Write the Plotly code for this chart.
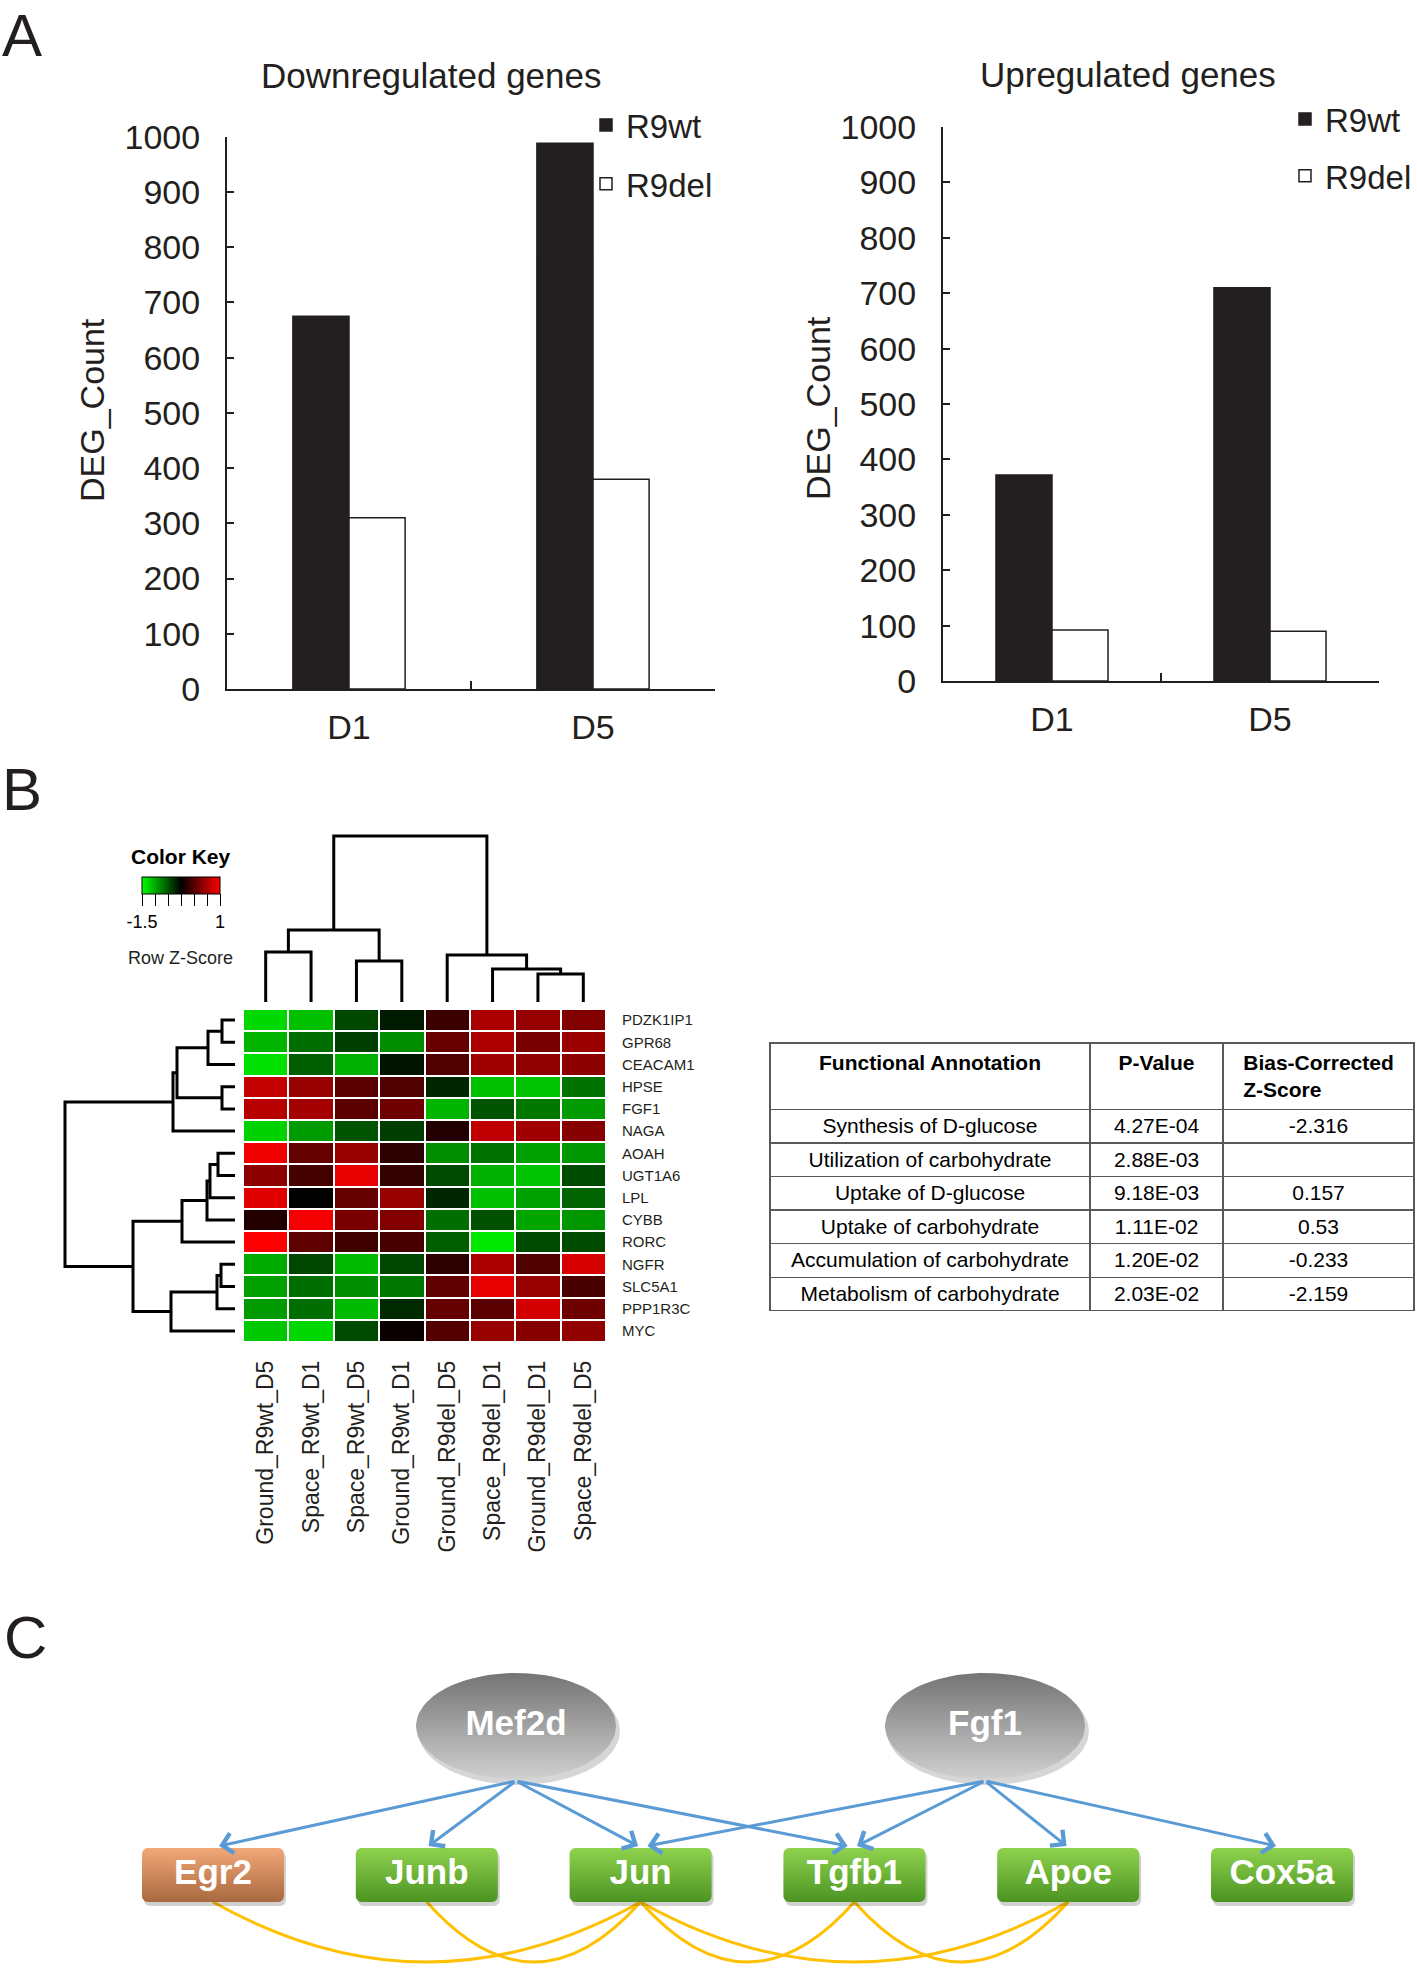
import numpy as np
import plotly.graph_objects as go

W, H = 1417, 1970
FONT = "Liberation Sans, Arial, sans-serif"
INK = "#231f20"

# ---------------- panel A: DEG counts
days = ["D1", "D5"]
down_r9wt = [675, 988]
down_r9del = [310, 380]
up_r9wt = [372, 710]
up_r9del = [92, 90]

# ---------------- panel B: heatmap (row z-scores)
samples = ["Ground_R9wt_D5", "Space_R9wt_D1", "Space_R9wt_D5", "Ground_R9wt_D1",
           "Ground_R9del_D5", "Space_R9del_D1", "Ground_R9del_D1", "Space_R9del_D5"]
genes = ["PDZK1IP1", "GPR68", "CEACAM1", "HPSE", "FGF1", "NAGA", "AOAH", "UGT1A6",
         "LPL", "CYBB", "RORC", "NGFR", "SLC5A1", "PPP1R3C", "MYC"]
row_z = [
    [-1.31, -1.19, -0.60, -0.38, 0.04, 0.59, 0.49, 0.39],
    [-1.13, -0.79, -0.56, -0.94, 0.25, 0.61, 0.34, 0.51],
    [-1.35, -0.71, -1.11, -0.35, 0.14, 0.54, 0.46, 0.44],
    [0.70, 0.49, 0.19, 0.14, -0.43, -1.19, -1.20, -0.81],
    [0.64, 0.56, 0.19, 0.29, -1.13, -0.66, -0.84, -1.01],
    [-1.28, -1.01, -0.66, -0.55, -0.08, 0.69, 0.54, 0.41],
    [0.93, 0.24, 0.49, -0.03, -0.94, -0.81, -1.04, -0.99],
    [0.44, 0.09, 0.88, 0.00, -0.61, -1.11, -1.20, -0.61],
    [0.85, -0.25, 0.24, 0.49, -0.43, -1.19, -1.04, -0.74],
    [-0.08, 0.95, 0.34, 0.39, -0.79, -0.64, -1.06, -0.99],
    [1.00, 0.21, 0.06, 0.11, -0.71, -1.38, -0.61, -0.61],
    [-1.09, -0.59, -1.16, -0.59, -0.03, 0.59, 0.14, 0.80],
    [-1.04, -0.79, -0.94, -0.84, 0.21, 0.88, 0.49, 0.11],
    [-1.01, -0.79, -1.16, -0.45, 0.24, 0.19, 0.78, 0.29],
    [-1.23, -1.30, -0.61, -0.20, 0.16, 0.49, 0.41, 0.46],
]
# hierarchical clustering merges: (node a, node b, height)
col_merges = [(0, 1, 50), (2, 3, 41), (8, 9, 72), (6, 7, 28), (5, 11, 33), (4, 12, 47), (10, 13, 166)]
row_merges = [(0, 1, 13), (15, 2, 27), (3, 4, 13), (16, 17, 58), (18, 5, 62), (6, 7, 17), (20, 8, 25),
              (21, 9, 28), (22, 10, 53), (11, 12, 14), (24, 13, 18), (25, 14, 64), (23, 26, 102), (19, 27, 170)]

functions = ["Synthesis of D-glucose", "Utilization of carbohydrate", "Uptake of D-glucose",
             "Uptake of carbohydrate", "Accumulation of carbohydrate", "Metabolism of carbohydrate"]
p_values = ["4.27E-04", "2.88E-03", "9.18E-03", "1.11E-02", "1.20E-02", "2.03E-02"]
bias_z = ["-2.316", "", "0.157", "0.53", "-0.233", "-2.159"]

# ---------------- panel C: network
regulators = ["Mef2d", "Fgf1"]
targets = ["Egr2", "Junb", "Jun", "Tgfb1", "Apoe", "Cox5a"]
target_direction = ["down", "up", "up", "up", "up", "up"]
regulation = [("Mef2d", "Egr2"), ("Mef2d", "Junb"), ("Mef2d", "Jun"), ("Mef2d", "Tgfb1"),
              ("Fgf1", "Jun"), ("Fgf1", "Tgfb1"), ("Fgf1", "Apoe"), ("Fgf1", "Cox5a")]
coexpression = [("Egr2", "Jun"), ("Junb", "Jun"), ("Jun", "Tgfb1"), ("Jun", "Apoe"), ("Tgfb1", "Apoe")]


def px_x(x):
    return x / W


def px_y(y):
    return 1 - y / H


def dendro_segments(merges, n_leaves):
    pos = {i: float(i) for i in range(n_leaves)}
    hgt = {i: 0.0 for i in range(n_leaves)}
    p, h = [], []
    for k, (a, b, d) in enumerate(merges):
        p += [pos[a], pos[a], pos[b], pos[b], None]
        h += [hgt[a], d, d, hgt[b], None]
        pos[n_leaves + k] = (pos[a] + pos[b]) / 2
        hgt[n_leaves + k] = d
    return p, h


def rounded_rect(cx, cy, w, h, r, n=8):
    pts = []
    corners = [(cx + w / 2 - r, cy - h / 2 + r, -90, 0), (cx + w / 2 - r, cy + h / 2 - r, 0, 90),
               (cx - w / 2 + r, cy + h / 2 - r, 90, 180), (cx - w / 2 + r, cy - h / 2 + r, 180, 270)]
    for ox, oy, a0, a1 in corners:
        for a in np.radians(np.linspace(a0, a1, n)):
            pts.append((ox + r * np.cos(a), oy + r * np.sin(a)))
    pts.append(pts[0])
    return [q[0] for q in pts], [q[1] for q in pts]


fig = go.Figure()

# ---- bar charts
bar_sets = [("x", "y", "legend", down_r9wt, down_r9del, 0.23),
            ("x2", "y2", "legend2", up_r9wt, up_r9del, 0.257)]
for xa, ya, lg, wt, dl, bw in bar_sets:
    fig.add_trace(go.Bar(x=days, y=wt, name="R9wt", width=bw, offset=-bw,
                         marker=dict(color=INK, line=dict(color=INK, width=1.5)),
                         xaxis=xa, yaxis=ya, legend=lg, legendgroup=lg + "wt"))
    fig.add_trace(go.Bar(x=days, y=dl, name="R9del", width=bw, offset=0,
                         marker=dict(color="white", line=dict(color=INK, width=1.5)),
                         xaxis=xa, yaxis=ya, legend=lg, legendgroup=lg + "del"))

# ---- heatmap with colour key
key_ticks = list(np.linspace(-1.5, 1.0, 7))
key_text = ["-1.5", "", "", "", "", "", "1"]
fig.add_trace(go.Heatmap(
    z=row_z, x=list(range(len(samples))), y=list(range(len(genes))),
    colorscale=[[0, "rgb(0,255,0)"], [0.5, "black"], [1, "rgb(255,0,0)"]],
    zmin=-1.5, zmax=1.0, xgap=2, ygap=2, xaxis="x3", yaxis="y3", hoverinfo="skip",
    colorbar=dict(orientation="h", x=px_x(181), xanchor="center", y=px_y(877), yanchor="top",
                  len=78, lenmode="pixels", thickness=17, thicknessmode="pixels",
                  outlinecolor="black", outlinewidth=1, xpad=0, ypad=0,
                  tickmode="array", tickvals=key_ticks, ticktext=key_text,
                  ticks="outside", ticklen=12, tickwidth=1.2, tickcolor="black",
                  tickfont=dict(size=18, color="black", family=FONT))))

cp, ch = dendro_segments(col_merges, len(samples))
fig.add_trace(go.Scatter(x=cp, y=ch, mode="lines", line=dict(color="black", width=3),
                         xaxis="x4", yaxis="y4", showlegend=False, hoverinfo="skip"))
rp, rh = dendro_segments(row_merges, len(genes))
fig.add_trace(go.Scatter(x=rh, y=rp, mode="lines", line=dict(color="black", width=3),
                         xaxis="x5", yaxis="y5", showlegend=False, hoverinfo="skip"))

# ---- table
fig.add_trace(go.Table(
    domain=dict(x=[px_x(770), px_x(1414)], y=[px_y(1311), px_y(1043)]),
    columnwidth=[320, 133, 191],
    header=dict(values=["<b>Functional Annotation</b>", "<b>P-Value</b>", "<b>Bias-Corrected<br>Z-Score</b>"],
                height=66, align="center", fill_color="white",
                line=dict(color="#595959", width=1.5),
                font=dict(size=21, color="black", family=FONT)),
    cells=dict(values=[functions, p_values, bias_z], height=33.6, align="center",
               fill_color="white", line=dict(color="#595959", width=1.5),
               font=dict(size=21, color="black", family=FONT))))

# ---- network
box_x0, box_dx, box_cy, box_w, box_h = 213, 213.8, 1875, 142, 54
reg_x = {"Mef2d": 516, "Fgf1": 985}
reg_cy, reg_rx, reg_ry = 1726, 100, 53
tx = {g: box_x0 + i * box_dx for i, g in enumerate(targets)}
box_colors = {"up": ["#8fd24e", "#4c9422"], "down": ["#f3a878", "#a8683f"]}

t = np.linspace(0, 2 * np.pi, 90)
for r in regulators:
    fig.add_trace(go.Scatter(x=reg_x[r] + 3 + (reg_rx + 1) * np.cos(t), y=reg_cy + 5 + (reg_ry + 1) * np.sin(t),
                             fill="toself", fillcolor="rgba(0,0,0,0.16)", mode="lines", line=dict(width=0),
                             xaxis="x6", yaxis="y6", showlegend=False, hoverinfo="skip"))
    fig.add_trace(go.Scatter(x=reg_x[r] + reg_rx * np.cos(t), y=reg_cy + reg_ry * np.sin(t),
                             fill="toself", mode="lines", line=dict(width=0),
                             fillgradient=dict(type="vertical", colorscale=[[0, "#747474"], [1, "#d0d0d0"]],
                                               start=reg_cy - reg_ry, stop=reg_cy + reg_ry),
                             xaxis="x6", yaxis="y6", showlegend=False, hoverinfo="skip"))
for g, d in zip(targets, target_direction):
    sx, sy = rounded_rect(tx[g] + 2, box_cy + 4, box_w, box_h, 6)
    fig.add_trace(go.Scatter(x=sx, y=sy, fill="toself", fillcolor="rgba(0,0,0,0.18)", mode="lines",
                             line=dict(width=0), xaxis="x6", yaxis="y6", showlegend=False, hoverinfo="skip"))
    bx, by = rounded_rect(tx[g], box_cy, box_w, box_h, 6)
    fig.add_trace(go.Scatter(x=bx, y=by, fill="toself", mode="lines", line=dict(width=0),
                             fillgradient=dict(type="vertical",
                                               colorscale=[[0, box_colors[d][0]], [1, box_colors[d][1]]],
                                               start=box_cy - box_h / 2, stop=box_cy + box_h / 2),
                             xaxis="x6", yaxis="y6", showlegend=False, hoverinfo="skip"))
fig.add_trace(go.Scatter(x=[reg_x[r] for r in regulators] + [tx[g] for g in targets],
                         y=[reg_cy] * len(regulators) + [box_cy] * len(targets),
                         text=regulators + targets, mode="text",
                         textfont=dict(size=35, color="white", family=FONT, weight="bold"),
                         xaxis="x6", yaxis="y6", showlegend=False, hoverinfo="skip"))

annotations = []
for src, dst in regulation:
    x0, x1 = reg_x[src], tx[dst]
    annotations.append(dict(x=x1 + 0.02 * (x0 - x1), y=box_cy - box_h / 2 - 2, ax=x0, ay=reg_cy + reg_ry + 2,
                            xref="x6", yref="y6", axref="x6", ayref="y6", text="", showarrow=True,
                            arrowhead=4, arrowsize=1.3, arrowwidth=3, arrowcolor="#5b9bd5"))
shapes = []
dip = 1962
for a, b in coexpression:
    xa, xb = tx[a], tx[b]
    yb = box_cy + box_h / 2
    shapes.append(dict(type="path", xref="x6", yref="y6", layer="below",
                       path=f"M {xa},{yb} Q {(xa + xb) / 2},{2 * dip - yb} {xb},{yb}",
                       line=dict(color="#ffc000", width=3)))

# ---- text
def label(text, x, y, size, angle=0, bold=False, anchor="center", yanchor="middle"):
    annotations.append(dict(text=f"<b>{text}</b>" if bold else text, x=px_x(x), y=px_y(y),
                            xref="paper", yref="paper", showarrow=False, textangle=angle,
                            xanchor=anchor, yanchor=yanchor,
                            font=dict(size=size, color=INK if not bold else "black", family=FONT)))


label("A", 0, 0, 60, anchor="left", yanchor="top")
label("B", 0, 789, 60, anchor="left")
label("C", 2, 1637, 60, anchor="left")
label("Downregulated genes", 431, 76, 35)
label("Upregulated genes", 1128, 74, 35)
label("DEG_Count", 92, 410, 34, angle=-90)
label("DEG_Count", 818, 408, 34, angle=-90)
label("Color Key", 181, 856, 21, bold=True)
label("Row Z-Score", 180, 958, 18)

axis_common = dict(showgrid=False, zeroline=False, linecolor=INK, linewidth=2, showline=True,
                   tickcolor=INK, tickwidth=2, tickfont=dict(size=34, color=INK, family=FONT))
hidden = dict(visible=False, showgrid=False, zeroline=False)

fig.update_layout(
    width=W, height=H, autosize=False, margin=dict(l=0, r=0, t=0, b=0, autoexpand=False),
    paper_bgcolor="white", plot_bgcolor="white", font=dict(family=FONT, color=INK),
    xaxis=dict(domain=[px_x(227), px_x(715)], anchor="y", type="category", ticks="inside",
               tickson="boundaries", ticklen=8, ticklabelstandoff=7, **axis_common),
    yaxis=dict(domain=[px_y(689), px_y(136.7)], anchor="x", range=[0, 1000], dtick=100,
               ticks="inside", ticklen=7, ticklabelstandoff=18, **axis_common),
    xaxis2=dict(domain=[px_x(943), px_x(1379)], anchor="y2", type="category", ticks="inside",
                tickson="boundaries", ticklen=8, ticklabelstandoff=7, **axis_common),
    yaxis2=dict(domain=[px_y(681), px_y(127)], anchor="x2", range=[0, 1000], dtick=100,
                ticks="inside", ticklen=7, ticklabelstandoff=18, **axis_common),
    xaxis3=dict(domain=[px_x(243), px_x(606)], anchor="y3", range=[-0.5, 7.5],
                tickmode="array", tickvals=list(range(len(samples))), ticktext=samples,
                tickangle=-90, ticks="", ticklabelstandoff=13, showgrid=False, zeroline=False,
                tickfont=dict(size=23, color=INK, family=FONT)),
    yaxis3=dict(domain=[px_y(1342), px_y(1009)], anchor="x3", side="right", range=[14.5, -0.5],
                tickmode="array", tickvals=list(range(len(genes))), ticktext=genes,
                ticks="", ticklabelstandoff=15, showgrid=False, zeroline=False,
                tickfont=dict(size=15, color=INK, family=FONT)),
    xaxis4=dict(domain=[px_x(243), px_x(606)], anchor="y4", range=[-0.5, 7.5], **hidden),
    yaxis4=dict(domain=[px_y(1002), px_y(832)], anchor="x4", range=[0, 170], **hidden),
    xaxis5=dict(domain=[px_x(61), px_x(235)], anchor="y5", range=[174, 0], **hidden),
    yaxis5=dict(domain=[px_y(1342), px_y(1009)], anchor="x5", range=[14.5, -0.5], **hidden),
    xaxis6=dict(domain=[0, 1], anchor="y6", range=[0, W], **hidden),
    yaxis6=dict(domain=[0, px_y(1620)], anchor="x6", range=[H, 1620], **hidden),
    legend=dict(x=px_x(586), y=px_y(97), xanchor="left", yanchor="top", tracegroupgap=13,
                font=dict(size=33, color=INK, family=FONT), bgcolor="rgba(0,0,0,0)"),
    legend2=dict(x=px_x(1285), y=px_y(91), xanchor="left", yanchor="top", tracegroupgap=11,
                 font=dict(size=33, color=INK, family=FONT), bgcolor="rgba(0,0,0,0)"),
    annotations=annotations, shapes=shapes,
)

fig.write_html("out.html", config={"displayModeBar": False},
               post_script="document.body.style.margin='0';")
